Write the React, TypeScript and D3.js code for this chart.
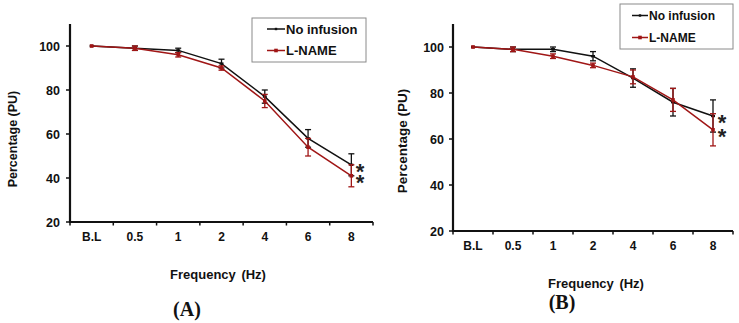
import React, { useRef, useEffect } from 'react';
import * as d3 from 'd3';

// frequency categories shared by both panels
const categories = ['B.L', '0.5', '1', '2', '4', '6', '8'];
const yTicks = [20, 40, 60, 80, 100];

// Panel A
const aNoInfusion = [100, 99, 98, 92, 77, 58, 46];
const aNoInfusionErr = [0, 1, 1, 2, 3, 4, 5];
const aLName = [100, 99, 96, 90, 75, 54, 41];
const aLNameErr = [0, 1, 1, 1, 3, 4, 5];

// Panel B
const bNoInfusion = [100, 99, 99, 96, 86.5, 76, 70];
const bNoInfusionErr = [0, 1, 1, 2, 4, 6, 7];
const bLName = [100, 99, 96, 92, 87, 77, 64];
const bLNameErr = [0, 1, 1, 1, 3, 5, 7];

const BLACK = '#111111';
const RED = '#a01616';
const FONT = "'Liberation Sans', Arial, Helvetica, sans-serif";
const SERIF = "'Liberation Serif', 'Times New Roman', Times, serif";

interface PanelCfg {
  left: number; right: number; top: number; bottom: number;
  xLabelY: number; yLabelX: number;
  legend: { x0: number; x1: number; y0: number; y1: number; row1: number; row2: number; lx0: number; lx1: number; tx: number; fs: number };
  starX: number;
  xTitle: [number, number]; yTitle: [number, number]; titleFs: number;
  tag: string; tagPos: [number, number];
  noInf: number[]; noInfErr: number[]; lname: number[]; lnameErr: number[];
}

const panels: PanelCfg[] = [
  {
    left: 70, right: 373, top: 24, bottom: 222,
    xLabelY: 241, yLabelX: 60,
    legend: { x0: 252, x1: 366, y0: 18, y1: 62, row1: 29, row2: 50.5, lx0: 267, lx1: 285, tx: 286, fs: 13 },
    starX: 360,
    xTitle: [218, 279], yTitle: [12, 139], titleFs: 12.5,
    tag: '(A)', tagPos: [187, 316],
    noInf: aNoInfusion, noInfErr: aNoInfusionErr, lname: aLName, lnameErr: aLNameErr,
  },
  {
    left: 453, right: 733, top: 24, bottom: 231,
    xLabelY: 250, yLabelX: 444,
    legend: { x0: 620, x1: 733, y0: 4, y1: 49, row1: 15.5, row2: 37.5, lx0: 632, lx1: 648, tx: 649, fs: 12 },
    starX: 722,
    xTitle: [596, 288], yTitle: [402, 141], titleFs: 13.5,
    tag: '(B)', tagPos: [562, 309],
    noInf: bNoInfusion, noInfErr: bNoInfusionErr, lname: bLName, lnameErr: bLNameErr,
  },
];

export default function App() {
  const svgRef = useRef<SVGSVGElement>(null);

  useEffect(() => {
    if (!svgRef.current) return;
    const svg = d3.select(svgRef.current);
    svg.selectAll('*').remove();

    const txt = (sel: d3.Selection<any, any, any, any>, fs: number, family = FONT) =>
      sel.style('font-family', family).style('font-weight', 'bold').style('font-size', `${fs}px`).attr('fill', BLACK);

    panels.forEach(p => {
      const g = svg.append('g');
      const x = d3.scaleBand().domain(categories).range([p.left, p.right]);
      const y = d3.scaleLinear().domain([20, 110]).range([p.bottom, p.top]);
      const cx = (c: string) => (x(c) || 0) + x.bandwidth() / 2;

      // axes
      g.append('line').attr('x1', p.left).attr('x2', p.left).attr('y1', p.top).attr('y2', p.bottom)
        .attr('stroke', BLACK).attr('stroke-width', 2.2);
      g.append('line').attr('x1', p.left - 1).attr('x2', p.right).attr('y1', p.bottom).attr('y2', p.bottom)
        .attr('stroke', BLACK).attr('stroke-width', 2.2);

      // x ticks at band edges
      g.append('line').attr('x1', p.left).attr('x2', p.left).attr('y1', p.bottom).attr('y2', p.bottom + 3.5)
        .attr('stroke', BLACK).attr('stroke-width', 1.5);
      categories.forEach(c => {
        const xe = (x(c) || 0) + x.bandwidth();
        g.append('line').attr('x1', xe).attr('x2', xe).attr('y1', p.bottom).attr('y2', p.bottom + 3.5)
          .attr('stroke', BLACK).attr('stroke-width', 1.5);
        txt(g.append('text').attr('x', cx(c)).attr('y', p.xLabelY).attr('text-anchor', 'middle'), 12)
          .text(c);
      });

      // y ticks
      yTicks.forEach(t => {
        g.append('line').attr('x1', p.left - 4).attr('x2', p.left).attr('y1', y(t)).attr('y2', y(t))
          .attr('stroke', BLACK).attr('stroke-width', 1.5);
        txt(g.append('text').attr('x', p.yLabelX).attr('y', y(t)).attr('dy', '0.36em').attr('text-anchor', 'end'), 12.5)
          .text(t);
      });

      // series
      const series = [
        { vals: p.noInf, err: p.noInfErr, color: BLACK, marker: 'dash' },
        { vals: p.lname, err: p.lnameErr, color: RED, marker: 'square' },
      ];
      series.forEach(s => {
        const line = d3.line<number>().x((_, i) => cx(categories[i])).y(v => y(v));
        g.append('path').attr('d', line(s.vals)).attr('fill', 'none')
          .attr('stroke', s.color).attr('stroke-width', 1.5);
        s.vals.forEach((v, i) => {
          const px = cx(categories[i]);
          const e = s.err[i];
          if (e > 0) {
            g.append('line').attr('x1', px).attr('x2', px).attr('y1', y(v - e)).attr('y2', y(v + e))
              .attr('stroke', s.color).attr('stroke-width', 1.3);
            [v - e, v + e].forEach(ev => {
              g.append('line').attr('x1', px - 3).attr('x2', px + 3).attr('y1', y(ev)).attr('y2', y(ev))
                .attr('stroke', s.color).attr('stroke-width', 1.3);
            });
          }
          if (s.marker === 'square') {
            g.append('rect').attr('x', px - 1.8).attr('y', y(v) - 1.8).attr('width', 3.6).attr('height', 3.6)
              .attr('fill', s.color);
          } else {
            g.append('rect').attr('x', px - 2).attr('y', y(v) - 1.2).attr('width', 4).attr('height', 2.4)
              .attr('fill', s.color);
          }
        });
      });

      // significance asterisks, one text with a tspan per series
      const star = txt(g.append('text').attr('text-anchor', 'middle'), 22).attr('fill', '#222');
      series.forEach(s => {
        const last = s.vals[s.vals.length - 1];
        star.append('tspan').attr('x', p.starX).attr('y', y(last) + 14).text('*');
      });

      // legend
      const L = p.legend;
      g.append('rect').attr('x', L.x0).attr('y', L.y0).attr('width', L.x1 - L.x0).attr('height', L.y1 - L.y0)
        .attr('fill', 'white').attr('stroke', '#8a8a8a').attr('stroke-width', 1);
      [
        { label: 'No infusion', color: BLACK, yy: L.row1, marker: 'dash' },
        { label: 'L-NAME', color: RED, yy: L.row2, marker: 'square' },
      ].forEach(it => {
        g.append('line').attr('x1', L.lx0).attr('x2', L.lx1).attr('y1', it.yy).attr('y2', it.yy)
          .attr('stroke', it.color).attr('stroke-width', 1.5);
        const mx = (L.lx0 + L.lx1) / 2;
        if (it.marker === 'square') {
          g.append('rect').attr('x', mx - 1.8).attr('y', it.yy - 1.8).attr('width', 3.6).attr('height', 3.6).attr('fill', it.color);
        } else {
          g.append('rect').attr('x', mx - 1.2).attr('y', it.yy - 1.2).attr('width', 2.4).attr('height', 2.4).attr('fill', it.color);
        }
        txt(g.append('text').attr('x', L.tx).attr('y', it.yy).attr('dy', '0.36em'), L.fs)
          .text(it.label);
      });

      // axis titles
      txt(g.append('text').attr('x', p.xTitle[0]).attr('y', p.xTitle[1]).attr('text-anchor', 'middle'), 13)
        .style('word-spacing', '2px')
        .text('Frequency (Hz)');
      txt(g.append('text').attr('transform', `translate(${p.yTitle[0]},${p.yTitle[1]}) rotate(-90)`)
        .attr('text-anchor', 'middle').attr('dy', '0.36em'), p.titleFs)
        .text('Percentage (PU)');

      // panel tag
      txt(g.append('text').attr('x', p.tagPos[0]).attr('y', p.tagPos[1]).attr('text-anchor', 'middle'), 20, SERIF)
        .text(p.tag);
    });
  }, []);

  return (
    <svg ref={svgRef} width={739} height={323}
      style={{ position: 'absolute', left: 0, top: 0, background: 'white' }} />
  );
}
